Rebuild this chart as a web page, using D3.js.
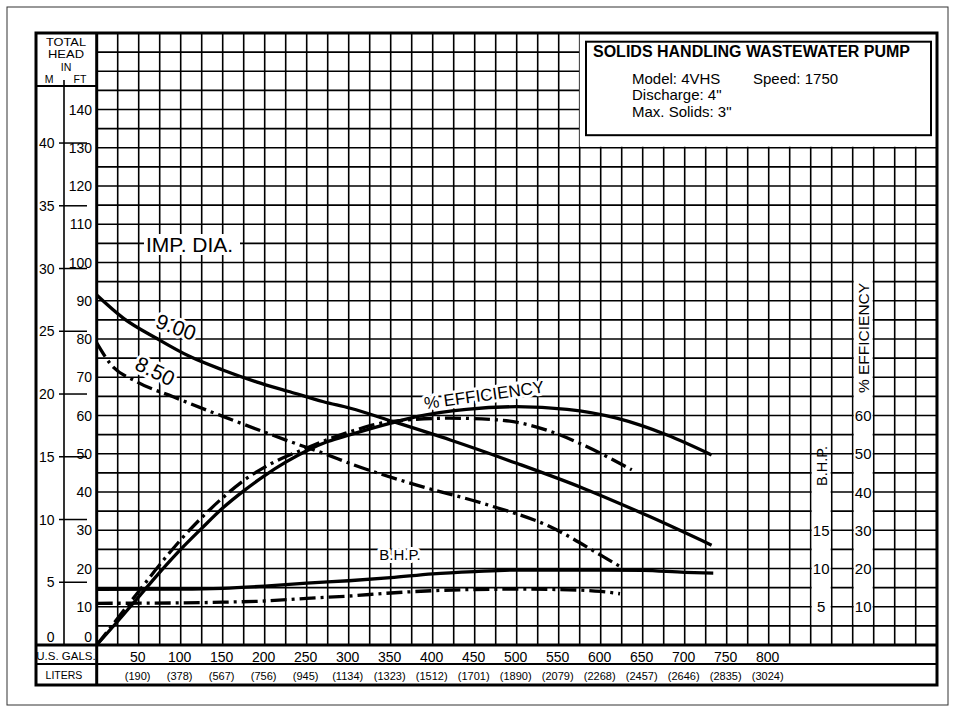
<!DOCTYPE html>
<html>
<head>
<meta charset="utf-8">
<script src="https://cdn.jsdelivr.net/npm/d3@7"></script>
<style>
body { margin: 0; background: #fff; }
text { font-family: "Liberation Sans", Arial, Helvetica, sans-serif; fill: #000; }
</style>
</head>
<body>
<svg id="chart" width="955" height="712"></svg>
<script>
// tick labels
const galTicks = [50, 100, 150, 200, 250, 300, 350, 400, 450, 500, 550, 600, 650, 700, 750, 800];
const literTicks = [190, 378, 567, 756, 945, 1134, 1323, 1512, 1701, 1890, 2079, 2268, 2457, 2646, 2835, 3024];
const ftTicks = [0, 10, 20, 30, 40, 50, 60, 70, 80, 90, 100, 110, 120, 130, 140];
const mTicks = [0, 5, 10, 15, 20, 25, 30, 35, 40];
const effTicks = [10, 20, 30, 40, 50, 60];
const bhpTicks = [5, 10, 15];

// curves: [US gallons per minute, value]
const head900 = [[0, 91.5], [32, 85.4], [71, 80.2], [111, 75.4], [150, 71.9], [190, 68.8], [230, 66.2], [270, 63.6], [302, 61.9], [353, 58.4], [421, 53.6], [500, 47.5], [579, 41.0], [659, 33.5], [732, 26.1]];
const head850 = [[0, 79.0], [16, 73.6], [48, 68.8], [91, 64.9], [151, 59.7], [198, 55.8], [230, 53.2], [270, 50.1], [306, 47.1], [381, 41.8], [460, 37.0], [540, 30.9], [603, 23.1], [627, 20.0]];
const eff900 = [[0, 0], [25, 6.2], [50, 12.6], [75, 19], [100, 25], [125, 30.5], [150, 35.8], [175, 40.3], [200, 44.3], [225, 47.8], [250, 50.8], [275, 53.2], [302, 55.0], [350, 58.0], [381, 59.7], [440, 61.6], [500, 62.3], [560, 61.6], [619, 59.3], [679, 54.9], [732, 49.7]];
const eff850 = [[0, 0], [25, 7], [50, 14], [75, 21], [100, 27.5], [125, 33.3], [150, 38.5], [175, 43], [200, 46.5], [250, 51.5], [305, 56.0], [350, 58.4], [420, 59.3], [480, 58.8], [547, 55.3], [579, 52.3], [637, 45.8]];
const bhp900 = [[0, 7.28], [100, 7.3], [150, 7.4], [200, 7.7], [250, 8.1], [300, 8.4], [350, 8.8], [400, 9.3], [450, 9.6], [500, 9.8], [550, 9.8], [600, 9.8], [650, 9.75], [700, 9.5], [734, 9.4]];
const bhp850 = [[0, 5.45], [100, 5.5], [150, 5.6], [200, 5.75], [250, 6.1], [300, 6.4], [350, 6.8], [400, 7.1], [450, 7.25], [500, 7.3], [550, 7.25], [600, 7.0], [623, 6.7]];

const svg = d3.select("#chart");

let frame = { left: 36, right: 937, top: 33, bottom: 685 };
let plot = { left: 96.7, right: 936.7, top: 33, bottom: 645 };
let galRowBottom = 664;

let x = d3.scaleLinear().domain([0, 1000]).range([plot.left, plot.right]);
let yFt = d3.scaleLinear().domain([0, 160]).range([plot.bottom, plot.top]);
let yM = d3.scaleLinear().domain([0, 160 / 3.2808]).range([plot.bottom, plot.top]);
let yEff = d3.scaleLinear().domain([0, 160]).range([plot.bottom, plot.top]);
let yBhp = d3.scaleLinear().domain([0, 80]).range([plot.bottom, plot.top]);

let gridW = 1.6;
let dashPattern = "16,5,3,5";

// page border
svg.append("rect")
    .attr("x", 7).attr("y", 7).attr("width", 941).attr("height", 698)
    .attr("fill", "#fff").attr("stroke", "#333").attr("stroke-width", 1);

// grid
let grid = svg.append("g").attr("id", "grid");
grid.selectAll("line.v")
    .data(d3.range(0, 1001, 25))
    .enter().append("line").attr("class", "v")
    .attr("x1", d => x(d)).attr("x2", d => x(d))
    .attr("y1", plot.top).attr("y2", plot.bottom)
    .attr("stroke", "#000").attr("stroke-width", gridW);
grid.selectAll("line.h")
    .data(d3.range(0, 161, 5))
    .enter().append("line").attr("class", "h")
    .attr("x1", plot.left).attr("x2", plot.right)
    .attr("y1", d => yFt(d)).attr("y2", d => yFt(d))
    .attr("stroke", "#000").attr("stroke-width", gridW);

// white strips for the right-hand scales
let bhpStrip = { x0: x(850) + 1, x1: x(875) - 1 };
let effStrip = { x0: x(900) + 1, x1: x(925) - 1 };
svg.append("rect")
    .attr("x", bhpStrip.x0).attr("y", yBhp(24.8))
    .attr("width", bhpStrip.x1 - bhpStrip.x0).attr("height", yBhp(2.6) - yBhp(24.8))
    .attr("fill", "#fff");
svg.append("rect")
    .attr("x", effStrip.x0).attr("y", yEff(99.6))
    .attr("width", effStrip.x1 - effStrip.x0).attr("height", yEff(5.4) - yEff(99.6))
    .attr("fill", "#fff");

// legend box
svg.append("rect")
    .attr("x", x(575)).attr("y", plot.top)
    .attr("width", plot.right - x(575)).attr("height", yFt(130) - plot.top - 1)
    .attr("fill", "#fff");
svg.append("rect")
    .attr("x", 586).attr("y", 41.7).attr("width", 345).attr("height", 93.5)
    .attr("fill", "none").attr("stroke", "#000").attr("stroke-width", 2);
svg.append("text")
    .attr("x", 593).attr("y", 57)
    .style("font-size", "16px").style("font-weight", "bold")
    .text("SOLIDS HANDLING WASTEWATER PUMP");
let legendLines = [
    ["Model: 4VHS", 632, 84], ["Speed: 1750", 753, 84],
    ["Discharge: 4\"", 632, 100], ["Max. Solids: 3\"", 632, 116.5]
];
svg.selectAll("text.legend")
    .data(legendLines)
    .enter().append("text").attr("class", "legend")
    .attr("x", d => d[1]).attr("y", d => d[2])
    .style("font-size", "15px")
    .text(d => d[0]);

// IMP. DIA. label
svg.append("rect")
    .attr("x", 144).attr("y", 234).attr("width", 96).attr("height", 21)
    .attr("fill", "#fff");
svg.append("text")
    .attr("x", 146).attr("y", 252)
    .style("font-size", "21px")
    .text("IMP. DIA.");

// curves
let line = d3.line()
    .x(d => x(d[0]))
    .curve(d3.curveMonotoneX);
let curves = [
    { data: head900, y: yFt, dash: null },
    { data: head850, y: yFt, dash: dashPattern },
    { data: eff900, y: yEff, dash: null },
    { data: eff850, y: yEff, dash: dashPattern },
    { data: bhp900, y: yBhp, dash: null },
    { data: bhp850, y: yBhp, dash: dashPattern }
];
svg.append("g").attr("id", "curves")
    .selectAll("path")
    .data(curves)
    .enter().append("path")
    .attr("d", c => line.y(d => c.y(d[1]))(c.data))
    .attr("fill", "none")
    .attr("stroke", "#000")
    .attr("stroke-width", 3.3)
    .attr("stroke-dasharray", c => c.dash);

// curve labels with white halo
function haloText(tx, ty, angle, size, str) {
    svg.append("text")
        .attr("transform", "translate(" + tx + "," + ty + ") rotate(" + angle + ")")
        .attr("text-anchor", "middle")
        .attr("dy", "0.35em")
        .style("font-size", size + "px")
        .style("paint-order", "stroke")
        .style("stroke", "#fff")
        .style("stroke-width", 6)
        .style("stroke-linejoin", "round")
        .text(str);
}
haloText(176, 327, 20, 21, "9.00");
haloText(155, 371, 26, 21, "8.50");
haloText(484, 395, -8, 17, "% EFFICIENCY");
haloText(400, 555, 0, 15, "B.H.P.");

// right-hand scales
svg.selectAll("text.eff")
    .data(effTicks)
    .enter().append("text").attr("class", "eff")
    .attr("x", (effStrip.x0 + effStrip.x1) / 2)
    .attr("y", d => yEff(d) + 5.5)
    .attr("text-anchor", "middle")
    .style("font-size", "15px")
    .text(d => d);
svg.selectAll("text.bhp")
    .data(bhpTicks)
    .enter().append("text").attr("class", "bhp")
    .attr("x", (bhpStrip.x0 + bhpStrip.x1) / 2)
    .attr("y", d => yBhp(d) + 5.5)
    .attr("text-anchor", "middle")
    .style("font-size", "15px")
    .text(d => d);
svg.append("text")
    .attr("transform", "translate(" + ((effStrip.x0 + effStrip.x1) / 2 + 0.5) + ",338) rotate(-90)")
    .attr("text-anchor", "middle").attr("dy", "0.35em")
    .style("font-size", "15.5px")
    .text("% EFFICIENCY");
svg.append("text")
    .attr("transform", "translate(" + ((bhpStrip.x0 + bhpStrip.x1) / 2 + 0.5) + ",466) rotate(-90)")
    .attr("text-anchor", "middle").attr("dy", "0.35em")
    .style("font-size", "14.5px")
    .text("B.H.P.");

// left column: head scales
let leftCol = svg.append("g").attr("id", "left-col");
leftCol.append("rect")
    .attr("x", frame.left).attr("y", frame.top)
    .attr("width", plot.left - frame.left).attr("height", plot.bottom - frame.top)
    .attr("fill", "#fff");
// header lines are tight in the original; condensed font keeps them apart
let headerText = [["TOTAL", 66, 45.5, 10.6, 40], ["HEAD", 66, 58, 10.6, 36], ["IN", 66, 70.5, 10.6, null], ["M", 49, 83.3, 10.5, null], ["FT", 80, 83.3, 10.5, null]];
leftCol.selectAll("text.hdr")
    .data(headerText)
    .enter().append("text").attr("class", "hdr")
    .attr("x", d => d[1]).attr("y", d => d[2])
    .attr("text-anchor", "middle")
    .attr("textLength", d => d[4])
    .attr("lengthAdjust", "spacingAndGlyphs")
    .style("font-size", d => d[3] + "px")
    .text(d => d[0]);
leftCol.append("line")
    .attr("x1", frame.left).attr("x2", plot.left)
    .attr("y1", 86).attr("y2", 86)
    .attr("stroke", "#000").attr("stroke-width", 2.2);
leftCol.append("line")
    .attr("x1", 64).attr("x2", 64)
    .attr("y1", 80).attr("y2", plot.bottom)
    .attr("stroke", "#000").attr("stroke-width", 1.6);
leftCol.selectAll("line.mtick")
    .data(mTicks.filter(d => d > 0))
    .enter().append("line").attr("class", "mtick")
    .attr("x1", 59).attr("x2", 87)
    .attr("y1", d => yM(d)).attr("y2", d => yM(d))
    .attr("stroke", "#000").attr("stroke-width", 1.5);
leftCol.selectAll("text.m")
    .data(mTicks)
    .enter().append("text").attr("class", "m")
    .attr("x", 54.5)
    .attr("y", d => d === 0 ? 642 : yM(d) + 5)
    .attr("text-anchor", "end")
    .style("font-size", "14px")
    .text(d => d);
leftCol.selectAll("text.ft")
    .data(ftTicks)
    .enter().append("text").attr("class", "ft")
    .attr("x", 92)
    .attr("y", d => d === 0 ? 642 : yFt(d) + 5)
    .attr("text-anchor", "end")
    .style("font-size", "14px")
    .text(d => d);

// bottom rows: flow scales
let bottom = svg.append("g").attr("id", "flow-axis");
bottom.append("rect")
    .attr("x", frame.left).attr("y", plot.bottom)
    .attr("width", frame.right - frame.left).attr("height", frame.bottom - plot.bottom)
    .attr("fill", "#fff");
bottom.append("line")
    .attr("x1", frame.left).attr("x2", frame.right)
    .attr("y1", plot.bottom).attr("y2", plot.bottom)
    .attr("stroke", "#000").attr("stroke-width", 3);
bottom.append("line")
    .attr("x1", frame.left).attr("x2", frame.right)
    .attr("y1", galRowBottom).attr("y2", galRowBottom)
    .attr("stroke", "#000").attr("stroke-width", 2.2);
bottom.append("text")
    .attr("x", 66).attr("y", 659.5).attr("text-anchor", "middle")
    .style("font-size", "11.5px")
    .text("U.S. GALS.");
bottom.append("text")
    .attr("x", 64).attr("y", 679).attr("text-anchor", "middle")
    .style("font-size", "10.5px")
    .text("LITERS");
bottom.selectAll("text.gal")
    .data(galTicks)
    .enter().append("text").attr("class", "gal")
    .attr("x", d => x(d) - 1)
    .attr("y", 661.5)
    .attr("text-anchor", "middle")
    .style("font-size", "14px")
    .text(d => d);
bottom.selectAll("text.liter")
    .data(literTicks)
    .enter().append("text").attr("class", "liter")
    .attr("x", (d, i) => x(galTicks[i]) - 1)
    .attr("y", 680)
    .attr("text-anchor", "middle")
    .style("font-size", "11px")
    .text(d => "(" + d + ")");

// column divider and outer frame
svg.append("line")
    .attr("x1", plot.left).attr("x2", plot.left)
    .attr("y1", frame.top).attr("y2", frame.bottom)
    .attr("stroke", "#000").attr("stroke-width", 3);
svg.append("rect")
    .attr("x", frame.left).attr("y", frame.top)
    .attr("width", frame.right - frame.left).attr("height", frame.bottom - frame.top)
    .attr("fill", "none").attr("stroke", "#000").attr("stroke-width", 3);
</script>
</body>
</html>
